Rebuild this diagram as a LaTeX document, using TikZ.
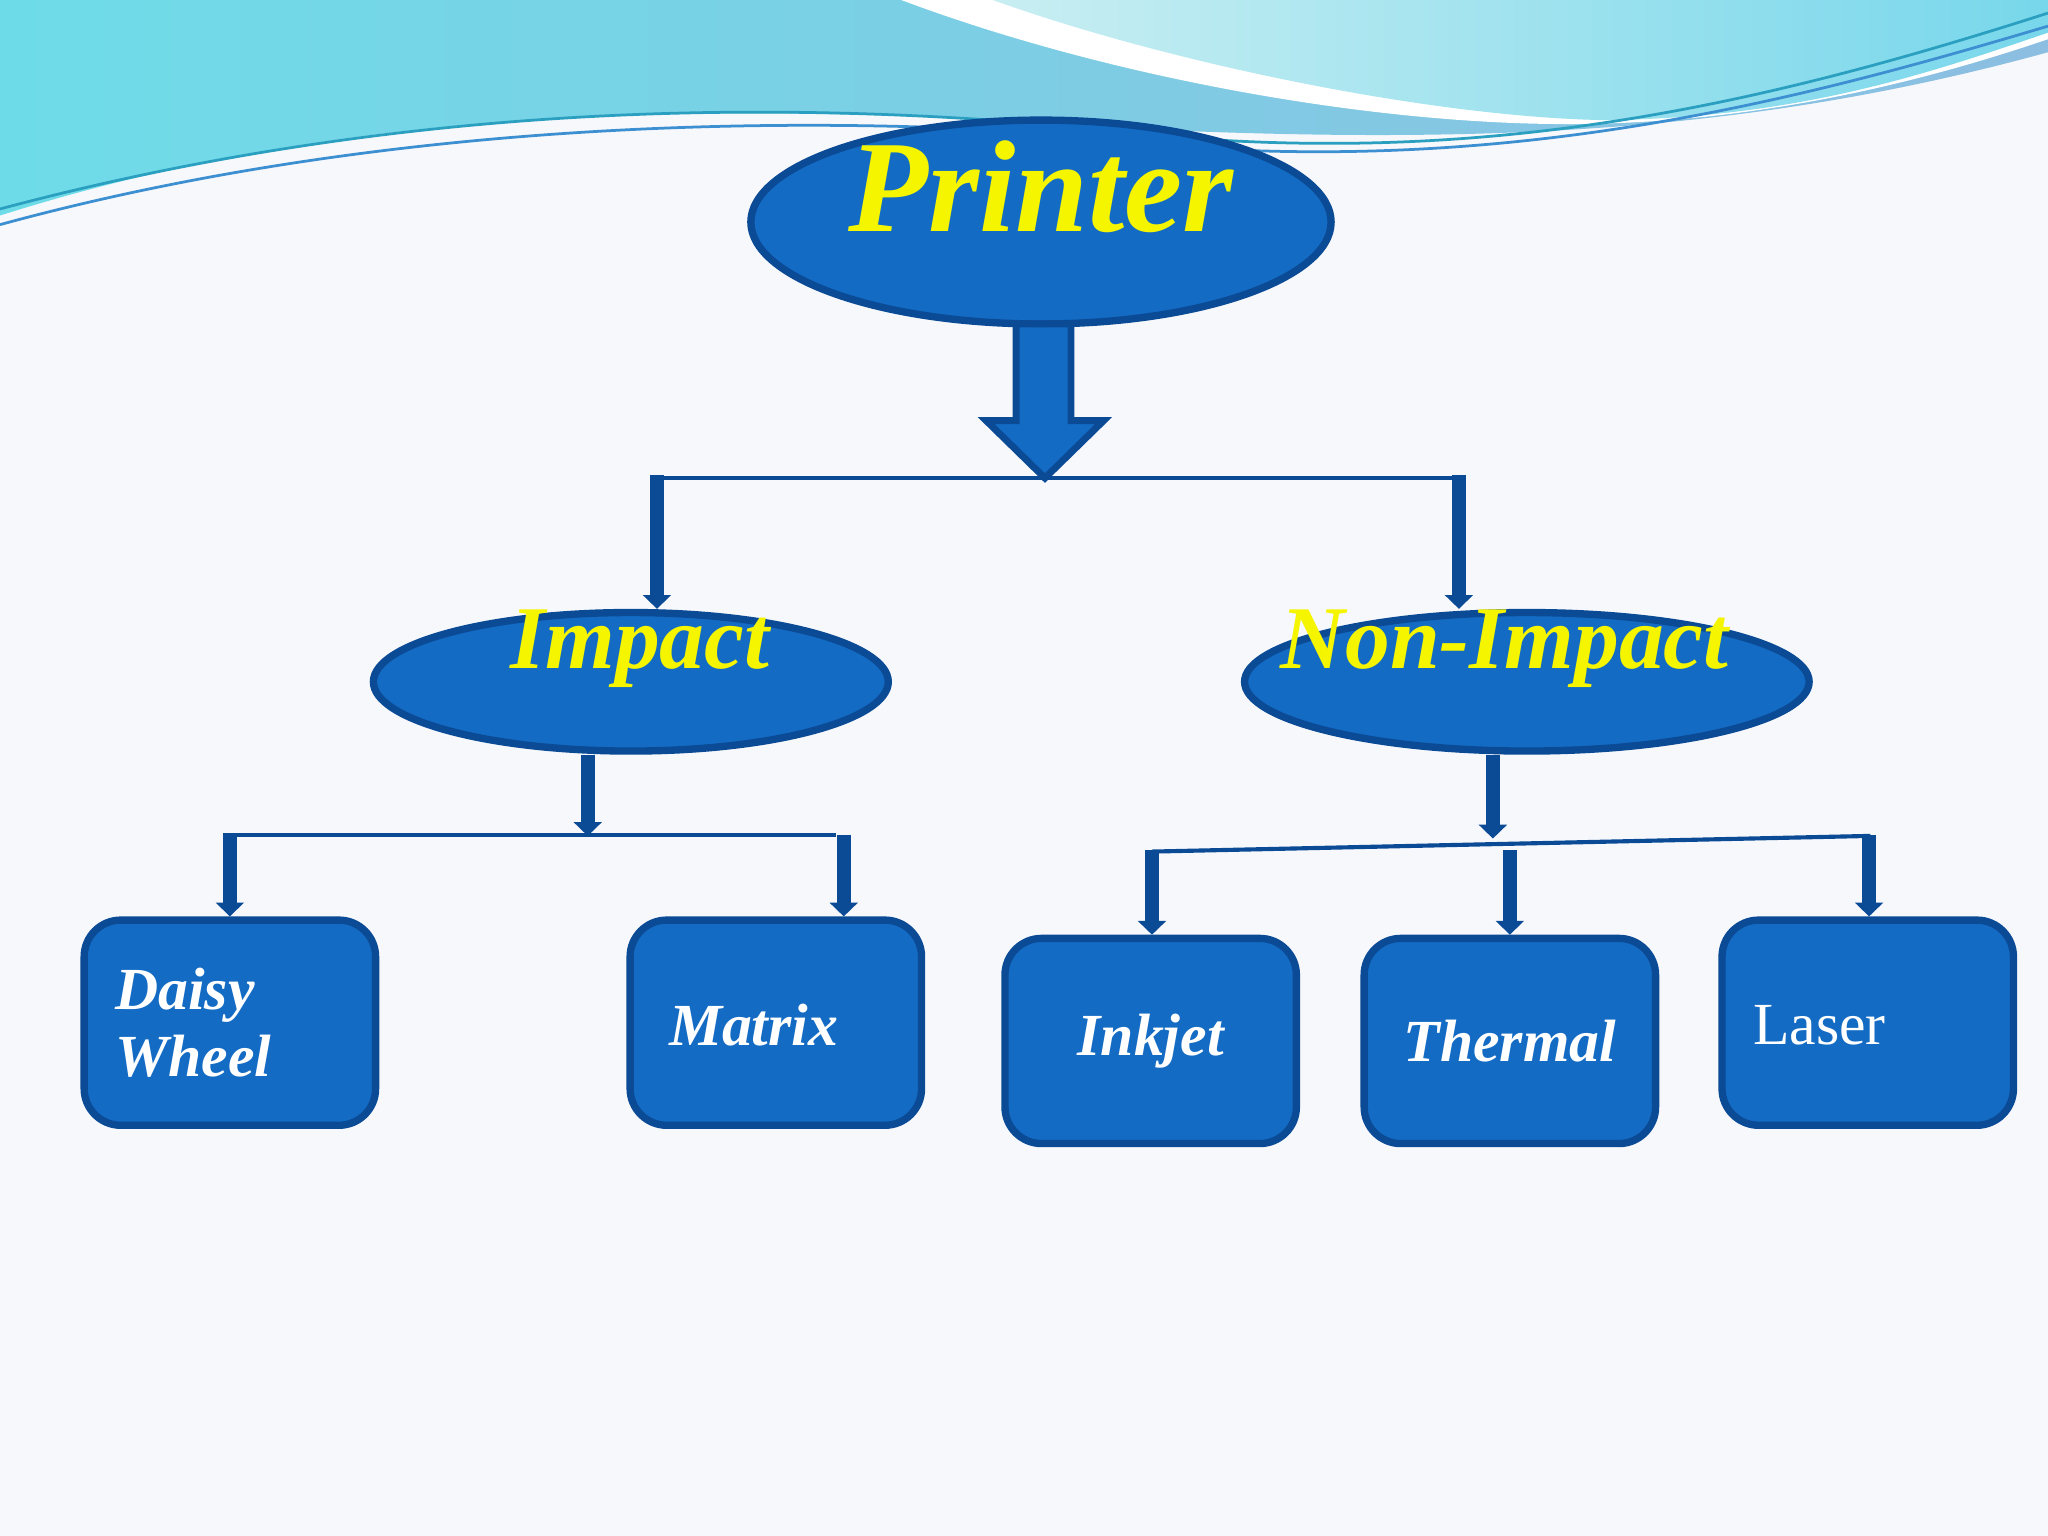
\documentclass[tikz,border=0pt]{standalone}
\usepackage{fontspec}
\setmainfont{Liberation Serif}
\usetikzlibrary{arrows.meta,shapes.geometric}
\definecolor{fillb}{HTML}{136BC4}
\definecolor{edgeb}{HTML}{0B4A95}
\definecolor{yel}{HTML}{F5F500}
\definecolor{bgc}{HTML}{F7F8FC}
\definecolor{wl1}{HTML}{2A9FC0}
\definecolor{wl2}{HTML}{3C8FD0}
\tikzset{
  ell/.style={ellipse, draw=edgeb, line width=1.6pt, fill=fillb},
  box/.style={draw=edgeb, line width=1.6pt, fill=fillb, rounded corners=0.28cm, minimum width=2.23cm, minimum height=1.57cm},
  conn/.style={draw=edgeb, line width=0.9pt},
  darr/.style={draw=edgeb, line width=3pt, -{Triangle[length=3pt,width=6pt]}},
  btxt/.style={text=white, font=\bfseries\itshape\fontsize{13}{14.5}\selectfont}
}
\begin{document}
\begin{tikzpicture}[x=0.01cm,y=-0.01cm]
\fill[bgc] (0,0) rectangle (1568,1176);
\useasboundingbox (0,0) rectangle (1568,1176);
% waves
\shade[left color={rgb,255:red,110;green,220;blue,232}, right color={rgb,255:red,140;green,190;blue,225}]
 (0,0) -- (1568,0) -- (1568,40) .. controls (1350,100) and (1150,110) .. (900,100)
 .. controls (600,80) and (300,70) .. (0,165) -- cycle;
\fill[white] (690,0) .. controls (850,60) and (1050,95) .. (1200,95) .. controls (1350,95) and (1480,60) .. (1568,30) -- (1568,0) -- cycle;
\shade[left color={rgb,255:red,200;green,238;blue,242}, right color={rgb,255:red,120;green,215;blue,235}]
 (760,0) .. controls (900,50) and (1100,90) .. (1230,92) .. controls (1380,90) and (1480,55) .. (1568,25) -- (1568,0) -- cycle;
\draw[wl1, line width=0.6pt] (0,160) .. controls (300,80) and (600,70) .. (900,105) .. controls (1150,125) and (1350,80) .. (1568,10);
\draw[wl2, line width=0.6pt] (0,172) .. controls (300,90) and (650,80) .. (950,115) .. controls (1200,125) and (1400,70) .. (1568,20);

% nodes
\node[ell, minimum width=4.44cm, minimum height=1.56cm] (printer) at (797,170) {};
\node[text=yel, font=\bfseries\itshape\fontsize{28.5}{30}\selectfont] at (797,143) {Printer};
\node[ell, minimum width=3.94cm, minimum height=1.06cm] (impact) at (483,522) {};
\node[text=yel, font=\bfseries\itshape\fontsize{19.5}{21}\selectfont] at (490,497) {Impact};
\node[ell, minimum width=4.32cm, minimum height=1.06cm] (nonimp) at (1169,522) {};
\node[text=yel, font=\bfseries\itshape\fontsize{19.5}{21}\selectfont] at (1152,497) {Non-Impact};

\node[box] (daisy) at (176,783) {};
\node[btxt, align=left] at (148,783) {Daisy\\Wheel};
\node[box] (matrix) at (594,783) {};
\node[btxt] at (577,785) {Matrix};
\node[box] (inkjet) at (881,797) {};
\node[btxt] at (881,797) {Inkjet};
\node[box] (thermal) at (1156,797) {};
\node[btxt] at (1156,797) {Thermal};
\node[box] (laser) at (1430,783) {};
\node[text=white, font=\fontsize{13}{15}\selectfont] at (1393,785) {Laser};

% big arrow
\coordinate (bj) at (800,366);
\filldraw[fill=fillb, draw=edgeb, line width=1.5pt] (778,248) -- (820,248) -- (820,322) -- (845,322) -- (bj) -- (755,322) -- (778,322) -- cycle;
\coordinate (hl) at (508,366); \coordinate (hr) at (1112,366);
\draw[conn] (hl) -- (hr);
\coordinate (al) at (503,364); \coordinate (ar) at (1117,364);
\draw[darr] (al) -- (impact.north -| al);
\draw[darr] (ar) -- (nonimp.north -| ar);

% impact subtree
\coordinate (ij) at (450,640);
\draw[darr] (impact.south -| ij) -- (ij);
\coordinate (i1) at (175,639); \coordinate (i2) at (646,639);
\draw[conn] (i1) -- (640,639);
\coordinate (i1b) at (176,638);
\draw[darr] (i1b) -- (daisy.north -| i1b);
\draw[darr] (i2) -- (matrix.north -| i2);

% non-impact subtree
\coordinate (nj) at (1143,642);
\draw[darr] (nonimp.south -| nj) -- (nj);
\coordinate (n1) at (882,652); \coordinate (n3) at (1432,640);
\draw[conn] (n1) -- (n3);
\coordinate (n1b) at (882,651);
\draw[darr] (n1b) -- (inkjet.north -| n1b);
\coordinate (n2) at (1156,651);
\draw[darr] (n2) -- (thermal.north -| n2);
\coordinate (n3b) at (1431,639);
\draw[darr] (n3b) -- (laser.north -| n3b);
\end{tikzpicture}
\end{document}
